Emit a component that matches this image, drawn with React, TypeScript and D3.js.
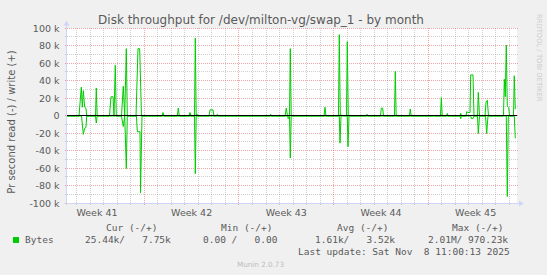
import React from "react";
import * as d3 from "d3";

const W = 547;
const H = 275;

// time base: hours since 2025-10-06 00:00 UTC
const BASE_MS = Date.UTC(2025, 9, 6);
const RANGE_START_H = 6.82;
const RANGE_END_H = 805.4;

const writeHours = [
  6.82, 28.1, 32.2, 34.0, 35.75, 38.2, 40.5, 41.8, 57.4, 58.8, 60.4, 82.2, 84.9, 88.5, 90.2, 92.5, 94.3,
  103.5, 106.7, 109.2, 112.1, 113.8, 129.3, 132.8, 135.8, 139.0, 175.4, 177.2, 179.0, 202.6, 204.3, 206.1,
  223.3, 225.1, 226.9, 233.1, 234.5, 236.1, 237.5, 239.0, 258.8, 260.6, 265.9, 267.7, 272.1, 273.5, 274.8,
  367.1, 368.3, 369.7, 393.7, 396.0, 398.1, 401.7, 403.1, 404.7, 462.9, 464.7, 466.4, 488.6, 490.0, 491.8,
  502.8, 504.2, 506.0, 537.4, 539.2, 541.0, 563.2, 564.6, 567.1, 568.5, 588.0, 589.4, 591.0, 614.6, 616.0,
  617.6, 656.9, 658.1, 659.5, 669.6, 671.1, 672.7, 680.3, 681.7, 683.3, 704.2, 705.5, 706.9, 714.9, 716.1,
  718.4, 722.0, 723.2, 727.3, 729.1, 735.3, 736.7, 738.9, 748.6, 750.4, 752.7, 754.8, 781.4, 782.9, 784.6,
  786.4, 788.2, 790.7, 792.1, 799.2, 800.6, 802.4,
];
const writeValues = [
  0, 0, 33000, 10000, 29000, 10000, 9000, 0, 0, 32000, 0, 0, 22000, 22000, 0, 58000, 0,
  0, 34000, 0, 77000, 0, 0, 77000, 77000, 0, 0, 4000, 0, 0, 9000, 0,
  0, 4000, 0, 0, 89000, 0, 2000, 0, 0, 7000, 7000, 0, 0, 2000, 0,
  0, 2000, 0, 0, 9000, 0, 0, 77000, 0, 0, 10000, 0, 0, 93000, 1000,
  0, 85000, 0, 0, 2000, 0, 0, 9000, 9000, 0, 0, 51000, 0, 0, 8000,
  0, 0, 1000, 0, 0, 21000, 0, 0, 3000, 0, 0, 3000, 0, 0, 5000,
  4000, 4000, 47000, 47000, 0, 0, 27000, 0, 0, 16000, 18000, 0, 0, 42000, 22000,
  81000, 11000, 10000, 0, 0, 46000, 7750,
];

const readHours = [
  6.82, 32.6, 35.75, 38.2, 40.5, 41.8, 57.4, 58.8, 60.4, 103.5, 106.7, 109.2, 112.1, 113.8,
  130.0, 131.6, 136.4, 137.3, 139.9, 233.1, 234.5, 236.1, 398.1, 399.5, 401.7, 403.1, 404.7,
  490.0, 491.3, 493.1, 504.2, 505.5, 507.3, 704.2, 705.5, 706.9, 723.2, 724.6, 727.3, 729.1,
  735.3, 736.7, 738.9, 749.5, 751.6, 753.9, 786.4, 788.2, 790.0, 800.6, 802.4,
];
const readValues = [
  0, 0, 21000, 14000, 13000, 0, 0, 8000, 0, 0, 12000, 0, 60000, 0,
  0, 18000, 18000, 88000, 0, 0, 66000, 0, 0, 3000, 0, 48000, 0,
  0, 31000, 0, 0, 35000, 0, 0, 3000, 0, 0, 3000, 3000, 0,
  0, 20000, 0, 0, 20000, 0, 0, 92000, 0, 0, 25440,
];

const yTickValues = [-100000, -80000, -60000, -40000, -20000, 0, 20000, 40000, 60000, 80000, 100000];
const yTickLabels = ["-100 k", "-80 k", "-60 k", "-40 k", "-20 k", "0", "20 k", "40 k", "60 k", "80 k", "100 k"];

const titleText = "Disk throughput for /dev/milton-vg/swap_1 - by month";
const yAxisTitle = "Pr second read (-) / write (+)";
const legendName = "Bytes";
const legendHeaders = ["Cur (-/+)", "Min (-/+)", "Avg (-/+)", "Max (-/+)"];
const legendValues = ["25.44k/   7.75k", "0.00 /   0.00", "1.61k/   3.52k", "2.01M/ 970.23k"];
const lastUpdate = "Last update: Sat Nov  8 11:00:13 2025";
const footer = "Munin 2.0.73";
const watermark = "RRDTOOL / TOBI OETIKER";

const PL = 67, PR = 517, PT = 28, PB = 203;
const GREEN = "#00CC00";
const FONT_COLOR = "#5a5a5a";
const AXIS = "#CFD6F8";
const GRID = "rgba(128,128,128,0.38)";
const MGRID = "rgba(225,60,60,0.45)";
const SANS = "'DejaVu Sans', sans-serif";
const MONO = "'DejaVu Sans Mono', monospace";

const hToDate = (h: number) => new Date(BASE_MS + h * 3600e3);
const crisp = (v: number) => Math.floor(v) + 0.5;

export default function App() {
  const start = hToDate(RANGE_START_H);
  const end = hToDate(RANGE_END_H);
  const x = d3.scaleUtc().domain([start, end]).range([PL, PR]);
  const y = d3.scaleLinear().domain([-100000, 100000]).range([PB, PT]);

  const writeData = writeHours.map((h, i) => ({ t: hToDate(h), v: writeValues[i] }));
  const readData = readHours.map((h, i) => ({ t: hToDate(h), v: -readValues[i] }));
  const line = d3
    .line<{ t: Date; v: number }>()
    .x((d) => x(d.t))
    .y((d) => y(d.v) + 0.5);

  const days = d3.utcDay.range(start, end);
  const weeks = d3.utcSunday.range(start, end);
  const weekKeys = new Set(weeks.map((d) => +d));
  const minorDays = days.filter((d) => !weekKeys.has(+d));
  const labelWeeks = d3.utcSunday.range(d3.utcSunday.offset(start, -1), end);
  const fmtWeek = d3.utcFormat("%V");
  const weekLabels = labelWeeks
    .map((s) => new Date(+s + 3.5 * 86400e3))
    .filter((m) => m >= start && m <= end)
    .map((m) => ({ x: x(m), label: "Week " + fmtWeek(m) }));

  const yMinor = d3.range(-100000, 100001, 10000).filter((v) => v % 20000 !== 0);

  return (
    <svg width={W} height={H} style={{ display: "block", position: "absolute", left: 0, top: 0 }}>
      <rect x={0} y={0} width={W} height={H} fill="#F0F0F0" />
      <rect x={PL} y={PT} width={PR - PL} height={PB - PT + 1} fill="#FFFFFF" />

      {/* minor grid */}
      {yMinor.map((v) => (
        <line key={"hy" + v} x1={PL - 2} x2={PR + 2} y1={crisp(y(v))} y2={crisp(y(v))}
          stroke={GRID} strokeDasharray="1,1" />
      ))}
      {minorDays.map((d) => (
        <line key={"vx" + +d} x1={crisp(x(d))} x2={crisp(x(d))} y1={PT} y2={PB + 3}
          stroke={GRID} strokeDasharray="1,1" />
      ))}
      {/* major grid */}
      {yTickValues.map((v) => (
        <line key={"my" + v} x1={PL - 2} x2={PR + 2} y1={crisp(y(v))} y2={crisp(y(v))}
          stroke={MGRID} strokeDasharray="1,1" />
      ))}
      {weeks.map((d) => (
        <line key={"mx" + +d} x1={crisp(x(d))} x2={crisp(x(d))} y1={PT} y2={PB + 3}
          stroke={MGRID} strokeDasharray="1,1" />
      ))}

      {/* axes */}
      <line x1={PL - 0.5} x2={PL - 0.5} y1={PB + 2} y2={PT - 4} stroke={AXIS} />
      <polygon points={`${PL - 3.5},${PT - 2.5} ${PL + 2.5},${PT - 2.5} ${PL - 0.5},${PT - 7.5}`} fill={AXIS} />
      <line x1={PL - 1} x2={PR + 3} y1={PB + 0.5} y2={PB + 0.5} stroke={AXIS} />
      <polygon points={`${PR + 2},${PB - 2.5} ${PR + 2},${PB + 3.5} ${PR + 7},${PB + 0.5}`} fill={AXIS} />

      {/* data */}
      <path d={line(writeData) || ""} fill="none" stroke={GREEN} strokeWidth={1} />
      <path d={line(readData) || ""} fill="none" stroke={GREEN} strokeWidth={1} />
      <line x1={PL} x2={PR} y1={crisp(y(0))} y2={crisp(y(0))} stroke="#000000" strokeWidth={1} />

      {/* title */}
      <text x={261} y={24} textAnchor="middle" fontFamily={SANS} fontSize={12} fill={FONT_COLOR}>
        {titleText}
      </text>
      {/* y axis title */}
      <text transform="translate(14.5,122) rotate(-90)" textAnchor="middle" fontFamily={SANS} fontSize={10} fill={FONT_COLOR}>
        {yAxisTitle}
      </text>
      {/* y tick labels */}
      {yTickValues.map((v, i) => (
        <text key={"yl" + v} x={59.5} y={y(v) + 3.7} textAnchor="end" fontFamily={SANS} fontSize={9.5} fill={FONT_COLOR}>
          {yTickLabels[i]}
        </text>
      ))}
      {/* x labels */}
      {weekLabels.map((w) => (
        <text key={w.label} x={w.x} y={216} textAnchor="middle" fontFamily={SANS} fontSize={9.5} fill={FONT_COLOR}>
          {w.label}
        </text>
      ))}

      {/* legend */}
      {legendHeaders.map((h, i) => (
        <text key={h} x={[106, 221, 337, 452][i]} y={230.7} fontFamily={MONO} fontSize={9.5} fill={FONT_COLOR}
          style={{ whiteSpace: "pre" }}>
          {h}
        </text>
      ))}
      <rect x={13} y={237} width={6} height={6} fill={GREEN} />
      <text x={25} y={242.7} fontFamily={MONO} fontSize={9.5} fill={FONT_COLOR}>{legendName}</text>
      {legendValues.map((v, i) => (
        <text key={"lv" + i} x={[85, 203, 315, 428][i]} y={242.7} fontFamily={MONO} fontSize={9.5} fill={FONT_COLOR}
          style={{ whiteSpace: "pre" }}>
          {v}
        </text>
      ))}
      <text x={298} y={255} fontFamily={MONO} fontSize={9.5} fill={FONT_COLOR} style={{ whiteSpace: "pre" }}>
        {lastUpdate}
      </text>
      <text x={260.5} y={266.5} textAnchor="middle" fontFamily={SANS} fontSize={7.2} fill="#BBBBBB">
        {footer}
      </text>
      <text transform="translate(536.5,14) rotate(90)" fontFamily={SANS} fontSize={6.8} fill="#CCCCCC">
        {watermark}
      </text>
    </svg>
  );
}
